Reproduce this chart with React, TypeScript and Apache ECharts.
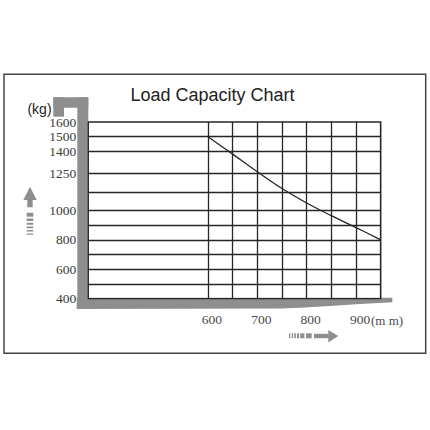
import React, { useEffect, useRef } from "react";
import * as echarts from "echarts";

// ---- data ----
const chartTitle = "Load Capacity Chart";
const xUnit = "(m m)";
const yUnit = "(kg)";
const xMin = 357.5;
const xMax = 950;
const yMin = 400;
const yMax = 1600;
const xLabelValues = [600, 700, 800, 900];
const yLabelValues = [400, 600, 800, 1000, 1250, 1400, 1500, 1600];
const xGridValues = [600, 650, 700, 750, 800, 850, 900, 950];
const yGridValues = [500, 600, 700, 800, 900, 1000, 1125, 1250, 1400, 1500];
const loadCenterMm = [600, 650, 700, 750, 800, 850, 900, 950];
const capacityKg = [1500, 1382, 1262, 1148, 1050, 964, 883, 800];

const GRAY = "#8e8e8e";
const INK = "#262626";
const SERIF = '"Liberation Serif", "Times New Roman", serif';
const SANS = '"Liberation Sans", Arial, sans-serif';

export default function App() {
  const ref = useRef<HTMLDivElement>(null);
  useEffect(() => {
    if (!ref.current) return;
    const chart = echarts.init(ref.current, null, { renderer: "svg" });
    const gridMarks = [
      ...xGridValues.map((v) => ({ xAxis: v })),
      ...yGridValues.map((v) => ({ yAxis: v })),
    ];
    chart.setOption({
      animation: false,
      backgroundColor: "#ffffff",
      grid: {
        left: 88.3,
        top: 122,
        width: 292.4,
        height: 176.7,
        show: true,
        borderColor: INK,
        borderWidth: 1.3,
        backgroundColor: "transparent",
        z: 2,
      },
      xAxis: {
        type: "value",
        min: xMin,
        max: xMax,
        axisLine: { show: false },
        axisTick: { show: false },
        splitLine: { show: false },
        axisLabel: {
          customValues: xLabelValues,
          formatter: (v: number) => String(v),
          margin: 14,
          padding: [0, 0, 0, 8],
          color: "#4a4a4a",
          fontFamily: SERIF,
          fontSize: 13.5,
        },
      },
      yAxis: {
        type: "value",
        min: yMin,
        max: yMax,
        axisLine: { show: false },
        axisTick: { show: false },
        splitLine: { show: false },
        axisLabel: {
          customValues: yLabelValues,
          formatter: (v: number) => String(v),
          margin: 12,
          padding: [5, 0, 0, 0],
          color: "#3a3a3a",
          fontFamily: SERIF,
          fontSize: 13.5,
        },
      },
      series: [
        {
          type: "line",
          data: loadCenterMm.map((x, i) => [x, capacityKg[i]]),
          smooth: 0.4,
          symbol: "none",
          lineStyle: { color: INK, width: 1.3 },
          z: 3,
          markLine: {
            silent: true,
            symbol: "none",
            label: { show: false },
            lineStyle: { color: INK, width: 1.3, type: "solid" },
            data: gridMarks,
          },
        },
      ],
      graphic: [
        {
          type: "rect",
          z: -5,
          shape: { x: 4, y: 74.3, width: 421.7, height: 279 },
          style: { fill: "none", stroke: "#444", lineWidth: 1.5 },
        },
        {
          type: "text",
          x: 212.5,
          y: 95,
          style: {
            text: chartTitle,
            font: `18px ${SANS}`,
            fill: "#222",
            align: "center",
            verticalAlign: "middle",
          },
        },
        {
          type: "text",
          x: 39.5,
          y: 109,
          style: {
            text: yUnit,
            font: `14px ${SANS}`,
            fill: "#222",
            align: "center",
            verticalAlign: "middle",
          },
        },
        {
          type: "text",
          x: 371,
          y: 320,
          style: {
            text: xUnit,
            font: `13px ${SERIF}`,
            fill: "#4a4a4a",
            align: "left",
            verticalAlign: "middle",
          },
        },
        // gray frame
        { type: "rect", z: -1, shape: { x: 53.3, y: 97.3, width: 35, height: 10.4 }, style: { fill: GRAY } },
        { type: "rect", z: -1, shape: { x: 53.3, y: 97.3, width: 10.7, height: 19.4 }, style: { fill: GRAY } },
        { type: "rect", z: -1, shape: { x: 77.3, y: 97.3, width: 11, height: 211.7 }, style: { fill: GRAY } },
        {
          type: "polygon",
          z: -1,
          shape: {
            points: [
              [76.7, 297.7],
              [392.3, 297.7],
              [392.3, 302.3],
              [360, 304],
              [330, 306],
              [300, 307.8],
              [280, 308.6],
              [76.7, 309],
            ],
          },
          style: { fill: GRAY },
        },
        // up arrow
        { type: "polygon", shape: { points: [[30, 186.7], [36.7, 200], [23.3, 200]] }, style: { fill: GRAY } },
        { type: "rect", shape: { x: 27.3, y: 199.5, width: 5.4, height: 7.8 }, style: { fill: GRAY } },
        { type: "rect", shape: { x: 26.7, y: 212.7, width: 6.6, height: 4 }, style: { fill: GRAY } },
        { type: "rect", shape: { x: 26.7, y: 218.6, width: 6.6, height: 2.4 }, style: { fill: GRAY } },
        { type: "rect", shape: { x: 26.7, y: 222.8, width: 6.6, height: 2 }, style: { fill: GRAY } },
        { type: "rect", shape: { x: 26.7, y: 226.6, width: 6.6, height: 1.6 }, style: { fill: GRAY } },
        { type: "rect", shape: { x: 26.7, y: 230, width: 6.6, height: 1.4 }, style: { fill: GRAY } },
        { type: "rect", shape: { x: 26.7, y: 233.4, width: 6.6, height: 1.3 }, style: { fill: GRAY } },
        // right arrow
        { type: "rect", shape: { x: 289, y: 333.3, width: 1.3, height: 5 }, style: { fill: GRAY } },
        { type: "rect", shape: { x: 291.7, y: 333.3, width: 1.4, height: 5 }, style: { fill: GRAY } },
        { type: "rect", shape: { x: 294.3, y: 333.3, width: 1.6, height: 5 }, style: { fill: GRAY } },
        { type: "rect", shape: { x: 297, y: 333.3, width: 2, height: 5 }, style: { fill: GRAY } },
        { type: "rect", shape: { x: 300.2, y: 333.3, width: 4.2, height: 5 }, style: { fill: GRAY } },
        { type: "rect", shape: { x: 306, y: 333.3, width: 5.7, height: 5 }, style: { fill: GRAY } },
        { type: "rect", shape: { x: 314, y: 333.8, width: 14.8, height: 4.4 }, style: { fill: GRAY } },
        { type: "polygon", shape: { points: [[328.3, 330], [338.3, 336], [328.3, 342.4]] }, style: { fill: GRAY } },
      ],
    });
    return () => chart.dispose();
  }, []);
  return (
    <div
      ref={ref}
      style={{ position: "absolute", left: 0, top: 0, width: 430, height: 430 }}
    />
  );
}
